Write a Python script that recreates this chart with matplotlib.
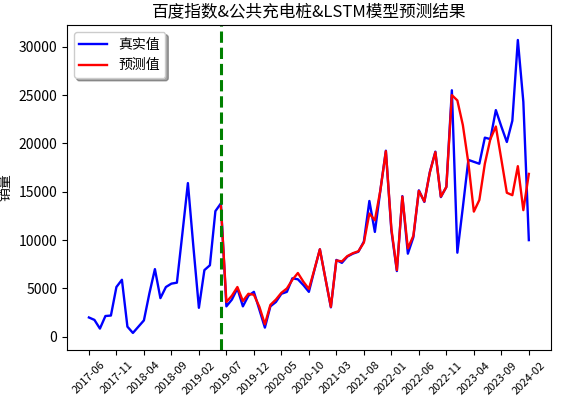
import numpy as np
import matplotlib
matplotlib.use('Agg')
import matplotlib.pyplot as plt

plt.rcParams['font.family'] = ['Noto Sans CJK SC', 'DejaVu Sans']
plt.rcParams['axes.unicode_minus'] = False

# monthly values 2017-06 .. 2024-02
true_vals = [2000, 1750, 850, 2150, 2200, 5150, 5900, 1050, 400, 1050,
             1700, 4500, 7000, 4000, 5150, 5500, 5600, 10700, 15900, 9300,
             3000, 6900, 7400, 13000, 13800, 3150, 3850, 5000, 3150, 4250,
             4650, 2800, 950, 3150, 3600, 4450, 4650, 6050, 5950, 5350,
             4650, 6900, 9050, 6050, 3050, 7950, 7650, 8300, 8600, 8800,
             9850, 14050, 10850, 15150, 19250, 11000, 6800, 14550, 8600, 10300,
             15150, 13950, 17050, 19150, 14450, 15500, 25500, 8700, 13400, 18300,
             18100, 17900, 20600, 20450, 23450, 21750, 20150, 22350, 30700, 24300,
             10000]

# predictions start at 2019-06 (index 24)
pred_start = 24
pred_vals = [13500, 3600, 4250, 5150, 3700, 4450, 4350, 3100, 1300, 3300,
             3850, 4550, 5000, 5900, 6600, 5700, 4950, 6950, 9050, 6050,
             3100, 7900, 7800, 8350, 8650, 8850, 9750, 12750, 12050, 15150,
             19200, 11200, 6900, 14500, 9150, 10450, 15100, 14000, 17000, 19100,
             14500, 15500, 25000, 24450, 21900, 18000, 12950, 14150, 17900, 20450,
             21750, 18350, 14900, 14650, 17650, 13100, 16850]

tick_labels = ['2017-06', '2017-11', '2018-04', '2018-09', '2019-02', '2019-07',
               '2019-12', '2020-05', '2020-10', '2021-03', '2021-08', '2022-01',
               '2022-06', '2022-11', '2023-04', '2023-09', '2024-02']

x_true = np.arange(len(true_vals))
x_pred = np.arange(pred_start, pred_start + len(pred_vals))

fig, ax = plt.subplots(figsize=(5.72, 3.97), dpi=100)
fig.subplots_adjust(left=0.117, right=0.963, top=0.937, bottom=0.118)

ax.plot(x_true, true_vals, color='blue', linewidth=1.7, label='真实值')
ax.plot(x_pred, pred_vals, color='red', linewidth=1.7, label='预测值')
ax.axvline(pred_start, color='green', linestyle='--', linewidth=2.2)

ax.set_ylim(-1380, 32250)
ax.set_xticks(np.arange(0, len(true_vals), 5))
ax.set_xticklabels(tick_labels, rotation=45, fontsize=8)
ax.tick_params(axis='y', labelsize=10)
ax.set_title('百度指数&公共充电桩&LSTM模型预测结果', fontsize=12)
ax.set_ylabel('销量', fontsize=10)
ax.legend(loc='upper left', shadow=True, fontsize=10)

plt.savefig('out.png', dpi=100)
